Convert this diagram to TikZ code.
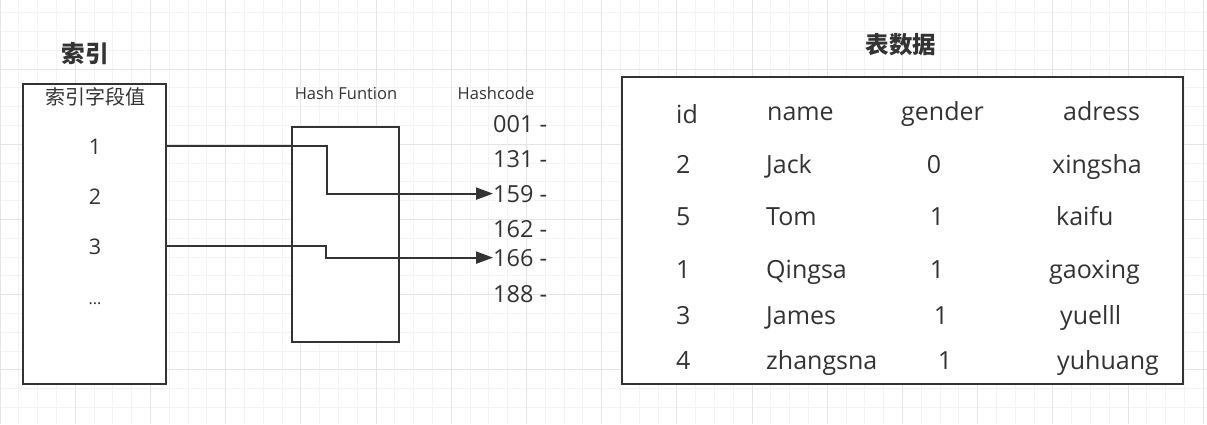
\documentclass[tikz,border=0pt]{standalone}
\usepackage{fontspec}
\setmainfont{Open Sans}
\newfontfamily\cjk{Noto Sans CJK SC}
\usetikzlibrary{arrows.meta, positioning}
\definecolor{ink}{HTML}{333333}
\definecolor{gridminor}{HTML}{F3F3F3}
\definecolor{gridmajor}{HTML}{E4E4E4}
\tikzset{
  x=1pt, y=-1pt,
  box/.style={draw=ink, line width=2.5pt, fill=white, inner sep=0pt},
  link/.style={draw=ink, line width=2pt, -{Triangle[length=17pt, width=12pt]}},
  cell/.style={text=ink, inner sep=0pt, anchor=base west, font=\fontsize{25}{29}\selectfont},
  code/.style={cell, font=\fontsize{23.5}{28}\selectfont},
  key/.style={text=ink, inner sep=0pt, anchor=base, font=\fontsize{21.5}{26}\selectfont},
  small/.style={text=ink, inner sep=0pt, font=\fontsize{16.5}{20}\selectfont},
  title/.style={text=ink, inner sep=0pt, font=\fontsize{23.5}{28}\selectfont\cjk\bfseries},
}

\begin{document}
\begin{tikzpicture}
		\useasboundingbox (0,0) rectangle (1207,424);

		% background grid
		\foreach \i in {0,...,64} {
			\draw[gridminor, line width=1pt] (\i*18.8,0) -- (\i*18.8,424);
		}
		\foreach \j in {1,...,23} {
			\draw[gridminor, line width=1pt] (0,-6.2+\j*18.8) -- (1207,-6.2+\j*18.8);
		}
		\foreach \i in {0,4,...,64} {
			\draw[gridmajor, line width=1pt] (\i*18.8,0) -- (\i*18.8,424);
		}
		\foreach \j in {4,8,...,20} {
			\draw[gridmajor, line width=1pt] (0,-6.2+\j*18.8) -- (1207,-6.2+\j*18.8);
		}

		% boxes
		\node[box, minimum width=143pt, minimum height=300pt] (idxbox) at (94.5,234) {};
		\node[box, minimum width=107pt, minimum height=215pt] (hashbox) at (345.5,234.5) {};
		\node[box, minimum width=561pt, minimum height=307pt] (tblbox) at (902.5,230.5) {};

		% titles
		\node[title] (idxtitle) at (85,54) {索引};
		\node[title] (tbltitle) at (901,45) {表数据};
		\node[small, font=\fontsize{20}{24}\selectfont\cjk] (idxhead) at (95,97) {索引字段值};
		\node[small] (hashlabel) at (346,93) {Hash Funtion};
		\node[small] (codelabel) at (496,93) {Hashcode};

		% index keys
		\node[key] (k1) at (95,154) {1};
		\node[key] (k2) at (95,204) {2};
		\node[key] (k3) at (95,254) {3};
		\node[key, font=\fontsize{16}{20}\selectfont] (kdots) at (95,304) {...};

		% hash codes
		\foreach \c/\b in {001/132, 131/167, 159/202, 162/237, 166/266, 188/302} {
			\node[code] (h\c) at (493,\b) {\c\ -};
		}

		% table header
		\node[cell] (idhead) at (676,123) {id};
		\node[cell] (namehead) at (767,120) {name};
		\node[cell] (genderhead) at (901,120) {gender};
		\node[cell] (adresshead) at (1063,120) {adress};

		% table rows
		\foreach \b/\id/\nm/\gx/\g/\ax/\ad [count=\r] in {
			173/2/Jack/934/0/1052/xingsha,
			225/5/Tom/937/1/1056/kaifu,
			278/1/Qingsa/937/1/1049/gaoxing,
			324/3/James/941/1/1060/yuelll,
			369/4/zhangsna/945/1/1057/yuhuang} {
			\node[cell] (id\r) at (676,\b) {\id};
			\node[cell] (name\r) at (766,\b) {\nm};
			\node[cell, anchor=base] (gender\r) at (\gx,\b) {\g};
			\node[cell] (adress\r) at (\ax,\b) {\ad};
		}

		% hashing
		\coordinate (turn1) at (327,170);
		\coordinate (turn2) at (326,250);
		\draw[link] (idxbox.east |- k1) -| (turn1) |- (h159.west);
		\draw[link] (idxbox.east |- k3) -| (turn2) |- (h166.west);

	\end{tikzpicture}
\end{document}
